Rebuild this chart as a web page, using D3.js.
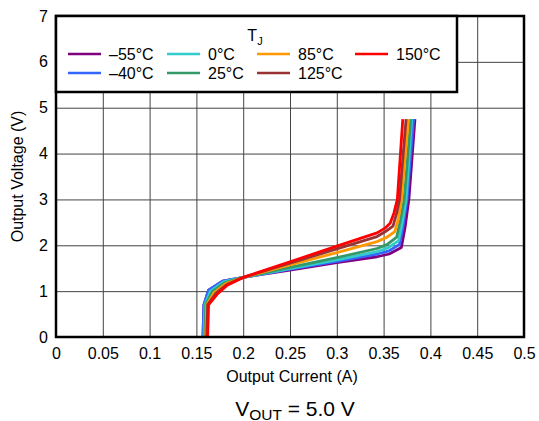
<!DOCTYPE html>
<html><head><meta charset="utf-8">
<script src="https://cdn.jsdelivr.net/npm/d3@7"></script>
<style>body{margin:0;background:#fff}svg{display:block}text{font-family:"Liberation Sans",Arial,Helvetica,sans-serif;fill:#000}</style>
</head><body>
<svg id="c" width="539" height="421"></svg>
<script>
// Series data [Output Current (A), Output Voltage (V)]
const tempLabels = ["\u201355\u00B0C", "\u201340\u00B0C", "0\u00B0C", "25\u00B0C", "85\u00B0C", "125\u00B0C", "150\u00B0C"];
const seriesColors = ["#800080", "#3366ff", "#33cccc", "#339966", "#ff9900", "#993333", "#ff0000"];
const tm55 = [[0.157,0],[0.158,0.7],[0.163,1.02],[0.178,1.22],[0.2,1.3],[0.25,1.46],[0.3,1.62],[0.343,1.75],[0.356,1.81],[0.369,1.95],[0.373,2.4],[0.377,3.0],[0.3835,4.75]];
const tm40 = [[0.157,0],[0.158,0.7],[0.163,1.02],[0.178,1.22],[0.2,1.3],[0.25,1.48],[0.3,1.65],[0.343,1.81],[0.356,1.88],[0.367,2.02],[0.371,2.45],[0.375,3.0],[0.382,4.75]];
const t0   = [[0.158,0],[0.159,0.7],[0.165,1.0],[0.179,1.2],[0.2,1.3],[0.25,1.49],[0.3,1.68],[0.343,1.86],[0.355,1.95],[0.366,2.1],[0.370,2.5],[0.374,3.0],[0.380,4.75]];
const t25  = [[0.159,0],[0.160,0.7],[0.167,0.99],[0.180,1.18],[0.2,1.3],[0.25,1.52],[0.3,1.73],[0.343,1.93],[0.354,2.02],[0.364,2.18],[0.368,2.55],[0.372,3.0],[0.379,4.75]];
const t85  = [[0.160,0],[0.161,0.7],[0.169,0.97],[0.181,1.16],[0.2,1.3],[0.25,1.57],[0.3,1.84],[0.343,2.08],[0.353,2.17],[0.362,2.3],[0.366,2.6],[0.369,3.0],[0.3765,4.75]];
const t125 = [[0.161,0],[0.162,0.7],[0.171,0.96],[0.182,1.14],[0.2,1.3],[0.25,1.61],[0.3,1.92],[0.343,2.19],[0.352,2.3],[0.360,2.42],[0.364,2.7],[0.367,3.0],[0.374,4.75]];
const t150 = [[0.162,0],[0.163,0.7],[0.173,0.95],[0.183,1.13],[0.2,1.3],[0.25,1.64],[0.3,1.98],[0.343,2.27],[0.352,2.38],[0.357,2.48],[0.361,2.7],[0.3647,3.0],[0.3705,4.75]];
const seriesData = [tm55, tm40, t0, t25, t85, t125, t150];
const xTicks = [0,0.05,0.1,0.15,0.2,0.25,0.3,0.35,0.4,0.45,0.5];
const xTickLabels = ["0","0.05","0.1","0.15","0.2","0.25","0.3","0.35","0.4","0.45","0.5"];
const yTicks = [0,1,2,3,4,5,6,7];

const svg = d3.select("#c");
const L = 56, R = 524, T = 16, B = 337;
const FS = 16;
const x = d3.scaleLinear().domain([0,0.5]).range([L,R]);
const y = d3.scaleLinear().domain([0,7]).range([B,T]);

// grid
const g = svg.append("g");
g.append("g").attr("transform",`translate(0,${B})`)
  .call(d3.axisBottom(x).tickValues(xTicks).tickSize(-(B-T)).tickFormat(""))
  .call(a=>a.select(".domain").remove())
  .call(a=>a.selectAll("line").attr("stroke","#444").attr("stroke-width",1));
g.append("g").attr("transform",`translate(${L},0)`)
  .call(d3.axisLeft(y).tickValues(yTicks).tickSize(-(R-L)).tickFormat(""))
  .call(a=>a.select(".domain").remove())
  .call(a=>a.selectAll("line").attr("stroke","#444").attr("stroke-width",1));

// tick labels
svg.append("g").attr("transform",`translate(0,${B})`)
  .call(d3.axisBottom(x).tickValues(xTicks).tickSize(0).tickPadding(11).tickFormat((d,i)=>xTickLabels[i]))
  .call(a=>a.select(".domain").remove())
  .call(a=>a.selectAll("text").attr("font-size",FS).attr("font-family","Liberation Sans, Arial, sans-serif"));
svg.append("g").attr("transform",`translate(${L},0)`)
  .call(d3.axisLeft(y).tickValues(yTicks).tickSize(0).tickPadding(8).tickFormat(d3.format("d")))
  .call(a=>a.select(".domain").remove())
  .call(a=>a.selectAll("text").attr("font-size",FS).attr("font-family","Liberation Sans, Arial, sans-serif"));

// lines
const line = d3.line().x(d=>x(d[0])).y(d=>y(d[1]));
svg.append("g").selectAll("path").data(seriesData).join("path")
  .attr("d",line).attr("fill","none")
  .attr("stroke",(d,i)=>seriesColors[i]).attr("stroke-width",2.8)
  .attr("stroke-linejoin","round");

// frame
svg.append("rect").attr("x",L).attr("y",T).attr("width",R-L).attr("height",B-T)
  .attr("fill","none").attr("stroke","#000").attr("stroke-width",2.5);

// legend
const lg = svg.append("g");
lg.append("rect").attr("x",L).attr("y",T).attr("width",457-L).attr("height",92-T)
  .attr("fill","#fff").attr("stroke","#000").attr("stroke-width",2.5);
const tt = lg.append("text").attr("x",255).attr("y",41).attr("text-anchor","middle").attr("font-size",FS);
tt.append("tspan").text("T");
tt.append("tspan").attr("dy",4).attr("font-size",11).text("J");
const colX = [68,167,257,355];
const rowY = [54,73];
const order = [[0,0],[0,1],[1,0],[1,1],[2,0],[2,1],[3,0]];
order.forEach((p,i)=>{
  const cx = colX[p[0]], cy = rowY[p[1]];
  lg.append("line").attr("x1",cx).attr("x2",cx+33).attr("y1",cy).attr("y2",cy)
    .attr("stroke",seriesColors[i]).attr("stroke-width",2.5);
  lg.append("text").attr("x",cx+41).attr("y",cy+6).attr("font-size",FS).text(tempLabels[i]);
});

// axis titles
svg.append("text").attr("x",(L+R)/2 + 2).attr("y",382).attr("text-anchor","middle").attr("font-size",FS).text("Output Current (A)");
svg.append("text").attr("transform",`translate(23,${(T+B)/2}) rotate(-90)`).attr("text-anchor","middle").attr("font-size",FS).text("Output Voltage (V)");
const vt = svg.append("text").attr("x",295).attr("y",416).attr("text-anchor","middle").attr("font-size",21);
vt.append("tspan").text("V");
vt.append("tspan").attr("dy",3.5).attr("font-size",15.5).text("OUT");
vt.append("tspan").attr("dy",-3.5).text(" = 5.0 V");
</script>
</body></html>
